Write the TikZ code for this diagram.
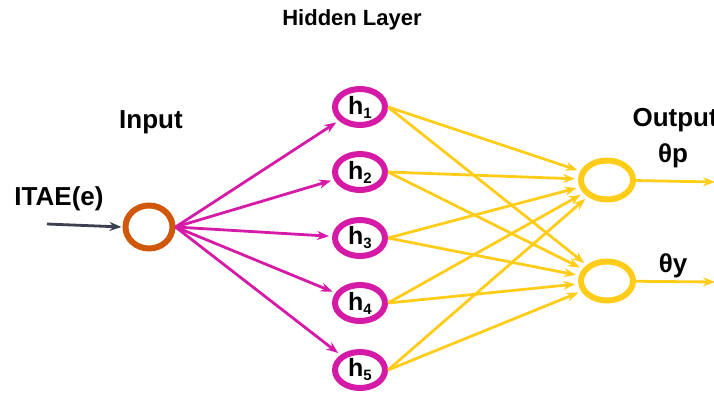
\documentclass[tikz,border=0pt]{standalone}
\usepackage{fontspec}
\setmainfont{Liberation Sans}
\usepackage{xcolor}
\definecolor{nninput}{RGB}{208,88,10}
\definecolor{nnhidden}{RGB}{214,26,168}
\definecolor{nnoutput}{RGB}{255,204,26}
\definecolor{nnfeed}{RGB}{58,64,80}
\usetikzlibrary{positioning,arrows.meta,shapes.geometric}
\newcommand{\hunit}[1]{h\raisebox{-4pt}{\fontsize{15}{15}\selectfont #1}}
\tikzset{
  neuron/.style  ={ellipse,line width=6pt,fill=white,inner sep=0pt},
  inneuron/.style ={neuron,draw=nninput,minimum width=47pt,minimum height=43pt},
  hidneuron/.style={neuron,draw=nnhidden,minimum width=50pt,minimum height=36pt,
                    font=\bfseries\fontsize{25}{25}\selectfont},
  outneuron/.style={neuron,draw=nnoutput,minimum width=52pt,minimum height=39pt},
  label/.style   ={font=\bfseries\fontsize{26}{30}\selectfont},
  wire/.style    ={-{Stealth[length=12pt,width=9pt]},line width=2.8pt,shorten >=3pt},
}
\begin{document}
\begin{tikzpicture}[x=1pt,y=-1pt]
  \useasboundingbox (0,0) rectangle (714,394);
  % input side
  \node[inneuron] (in) at (149,227) {};
  \coordinate (feed) at (47,224);
  \node[label] (itae) at (59,199) {ITAE(e)};
  \node[label] (inlbl) at (151,122) {Input};
  % hidden layer
  \node[label,font=\bfseries\fontsize{22}{26}\selectfont] (hidlbl) at (352,20) {Hidden Layer};
  \foreach \i/\y in {1/107,2/172,3/238,4/303,5/370}
    \node[hidneuron] (h\i) at (360,\y) {\hunit{\i}};
  % outputs
  \node[outneuron] (op) at (607,180) {};
  \node[outneuron] (oy) at (607,281) {};
  \coordinate (endp) at (715,182);
  \coordinate (endy) at (715,282);
  \node[label,anchor=west] (outlbl) at (629,120) {Output};
  \node[label] (thp) at (673,156) {θp};
  \node[label] (thy) at (673,266) {θy};
  % connections
  \draw[wire,draw=nnfeed,shorten >=1pt] (feed) -- (in.west);
  \foreach \i in {1,...,5}
    \draw[wire,draw=nnhidden] (in.east) -- (h\i);
  \foreach \i in {1,...,5}{
    \draw[wire,draw=nnoutput] (h\i.east) -- (op);
    \draw[wire,draw=nnoutput] (h\i.east) -- (oy);
  }
  \draw[wire,draw=nnoutput,shorten >=0pt] (op) -- (endp);
  \draw[wire,draw=nnoutput,shorten >=0pt] (oy) -- (endy);
\end{tikzpicture}
\end{document}
